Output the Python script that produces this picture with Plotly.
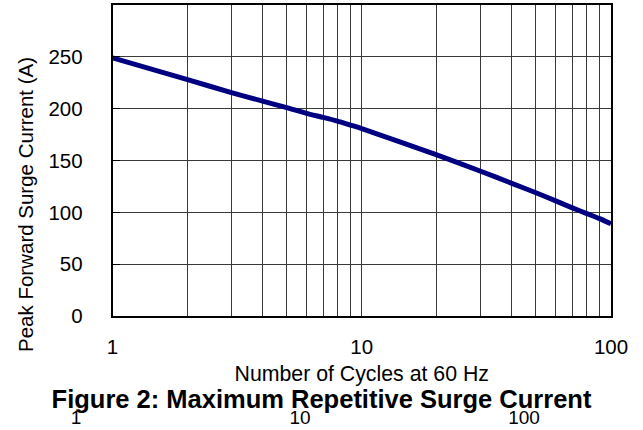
import plotly.graph_objects as go

# Data
cycles = [1, 2, 3, 4, 5, 6, 7, 8, 9, 10, 20, 30, 40, 50, 60, 70, 80, 90, 100]
current = [249, 228, 215.5, 207.3, 201, 195.5, 191.6, 188, 184.2, 180.8, 155.5,
           139.6, 128, 118.9, 111.1, 104.3, 98.8, 93.9, 89]

x_grid = [1, 2, 3, 4, 5, 6, 7, 8, 9, 10, 20, 30, 40, 50, 60, 70, 80, 90, 100]
x_labels = ["1", "", "", "", "", "", "", "", "", "10", "", "", "", "", "", "", "", "", "100"]
y_ticks = [0, 50, 100, 150, 200, 250]
ghost_ticks = [1, 10, 100]

title_text = "Figure 2: Maximum Repetitive Surge Current"
x_title = "Number of Cycles at 60 Hz"
y_title = "Peak Forward Surge Current (A)"

FONT = "Liberation Sans, Arial, sans-serif"
GRID = "#3a3a3a"

fig = go.Figure()
fig.add_trace(go.Scatter(
    x=cycles, y=current, mode="lines",
    line=dict(color="#000080", width=5, shape="spline", smoothing=0.5),
    hoverinfo="skip", showlegend=False,
))
# invisible trace for the stray second axis
fig.add_trace(go.Scatter(
    x=ghost_ticks, y=[None] * len(ghost_ticks), xaxis="x2", yaxis="y2",
    mode="markers", marker=dict(opacity=0), showlegend=False, hoverinfo="skip",
))

L, R, T, B = 60, 32, 5, 114
W, H = 643, 430
pw = W - L - R
ph = H - T - B
main_x0 = (112.5 - L) / pw
ghost_x0 = (76 - L) / pw
ghost_x1 = (524 - L) / pw

fig.update_layout(
    template="none",
    width=W, height=H,
    margin=dict(l=L, r=R, t=T, b=B, autoexpand=False),
    paper_bgcolor="white", plot_bgcolor="rgba(0,0,0,0)",
    font=dict(family=FONT, color="black", size=20),
    title=dict(text="<b>" + title_text + "</b>", x=0.5, xref="container", xanchor="center",
               y=1 - 399 / H, yref="container", yanchor="middle",
               font=dict(family=FONT, size=25.5, color="black")),
    xaxis=dict(
        type="log", range=[0, 2], domain=[main_x0, 1], automargin=False,
        tickmode="array", tickvals=x_grid, ticktext=x_labels,
        showgrid=True, gridcolor=GRID, gridwidth=1,
        showline=True, linecolor="black", linewidth=1.5, mirror=True,
        ticks="", ticklabelstandoff=12,
        tickfont=dict(size=20.5, family=FONT),
        title=dict(text=x_title, font=dict(size=21.3, family=FONT), standoff=9),
        zeroline=False,
    ),
    xaxis2=dict(
        type="log", range=[0, 2], domain=[ghost_x0, ghost_x1],
        anchor="y2", automargin=False,
        tickmode="array", tickvals=ghost_ticks, ticktext=[str(v) for v in ghost_ticks],
        showgrid=False, showline=False, ticks="", ticklabelstandoff=88,
        tickfont=dict(size=19, family=FONT), zeroline=False,
    ),
    yaxis=dict(
        range=[0, 300], tickmode="array", tickvals=y_ticks, automargin=False,
        showgrid=True, gridcolor=GRID, gridwidth=1,
        showline=True, linecolor="black", linewidth=1.5, mirror=True,
        ticks="inside", ticklen=8, tickcolor="black", ticklabelstandoff=24,
        tickfont=dict(size=20.5, family=FONT), zeroline=False,
    ),
    yaxis2=dict(
        range=[0, 300], anchor="x2", visible=False, showgrid=False, zeroline=False,
        automargin=False,
    ),
    annotations=[dict(
        text=y_title, textangle=-90, showarrow=False,
        xref="paper", yref="paper",
        x=(25 - L) / pw, y=(316 - 205) / ph,
        xanchor="center", yanchor="middle",
        font=dict(size=20.5, family=FONT, color="black"),
    )],
)

fig.write_html("out.html", config={"displayModeBar": False},
               post_script="document.body.style.margin='0';document.body.style.padding='0';")
